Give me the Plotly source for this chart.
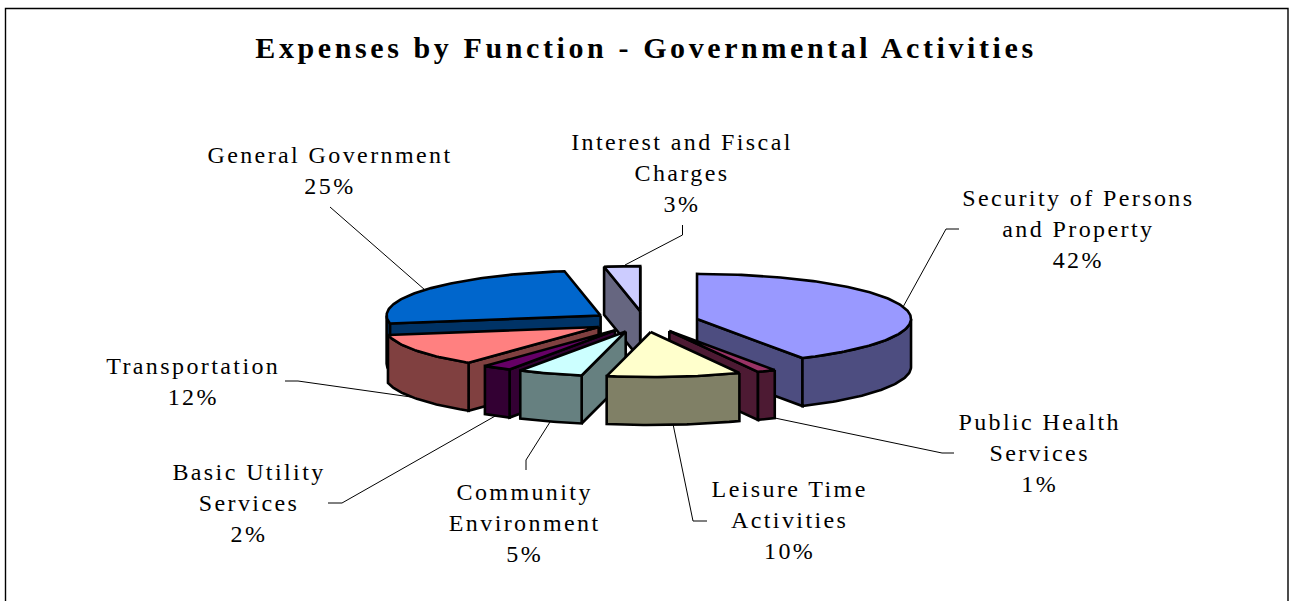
import numpy as np
import plotly.graph_objects as go

TITLE = "Expenses by Function - Governmental Activities"
categories = ["Security of Persons<br>and Property", "Public Health<br>Services",
              "Leisure Time<br>Activities", "Community<br>Environment",
              "Basic Utility<br>Services", "Transportation",
              "General Government", "Interest and Fiscal<br>Charges"]
values = [41.8, 1.4, 10.1, 4.9, 2.2, 11.8, 25.1, 2.7]
top_colors = ["#9999FF", "#993366", "#FFFFCC", "#CCFFFF", "#660066", "#FF8080", "#0066CC", "#CCCCFF"]
side_colors = ["#4D4D80", "#4D1A33", "#808066", "#668080", "#330033", "#804040", "#003366", "#666680"]

label_x = [1078, 1039, 789, 525, 249, 193, 330, 682]
label_y = [229, 453, 520, 523, 503, 381, 170, 173]
leader_x = [[959, 946, 903], [954, 942, 770], [707, 693, 673], [526, 526, 550],
            [328, 342, 497], [285, 298, 418], [330, 425], [682.5, 682.5, 625]]
leader_y = [[229, 229, 307], [453, 453, 417], [521, 521, 424], [470, 460, 422],
            [503, 503, 415], [381, 381, 398], [207, 290], [225, 235, 265]]

CX, CY = 644.8, 321.6    # pie centre on the page
RX, RY = 214, 45         # top ellipse radii
DEPTH = 48               # pie thickness
EX, EY = 54, 10.5        # slice explosion
W, H = 1289, 601

fig = go.Figure()

for lx, ly in zip(leader_x, leader_y):
    fig.add_trace(go.Scatter(x=lx, y=ly, mode="lines", line=dict(color="#000000", width=1),
                             hoverinfo="skip", showlegend=False))

total = sum(values)
edges = np.concatenate([[0], np.cumsum(values)]) / total * 360


def arc(a0, a1, ax, ay):
    t = np.radians(np.linspace(a0, a1, max(2, int(abs(a1 - a0)) + 2)))
    return ax + RX * np.sin(t), ay - RY * np.cos(t)


def poly(xs, ys, color, name):
    fig.add_trace(go.Scatter(x=np.append(xs, xs[0]), y=np.append(ys, ys[0]), mode="lines",
                             fill="toself", fillcolor=color,
                             line=dict(color="#000000", width=2.6), name=name,
                             hoverinfo="skip", showlegend=False))


mids = [(edges[i] + edges[i + 1]) / 2 for i in range(len(values))]
order = sorted(range(len(values)), key=lambda i: -np.cos(np.radians(mids[i])))

for i in order:
    a0, a1 = edges[i], edges[i + 1]
    m = np.radians(mids[i])
    ax, ay = CX + EX * np.sin(m), CY - EY * np.cos(m)
    side, top = side_colors[i], top_colors[i]
    # radial side faces that look towards the viewer
    for ang, visible in ((a0, np.sin(np.radians(a0)) < 0), (a1, np.sin(np.radians(a1)) > 0)):
        if visible:
            px, py = arc(ang, ang, ax, ay)
            px, py = px[0], py[0]
            poly(np.array([ax, px, px, ax]), np.array([ay, py, py + DEPTH, ay + DEPTH]), side, "side")
    # outer rim, front half only
    r0, r1 = max(a0, 90), min(a1, 270)
    if r1 > r0:
        rx_, ry_ = arc(r0, r1, ax, ay)
        poly(np.concatenate([rx_, rx_[::-1]]), np.concatenate([ry_, ry_[::-1] + DEPTH]), side, "rim")
    # top face
    tx, ty = arc(a0, a1, ax, ay)
    poly(np.concatenate([[ax], tx]), np.concatenate([[ay], ty]), top, "top")

FONT = "Liberation Serif"
for name, v, x, y in zip(categories, values, label_x, label_y):
    fig.add_annotation(x=x, y=y, text=f"{name}<br>{round(v)}%", showarrow=False, xanchor="center", yanchor="middle",
                       align="center", font=dict(family=FONT, size=24, color="#000000"))

fig.update_layout(
    width=W, height=H, autosize=False, margin=dict(l=0, r=0, t=0, b=0),
    paper_bgcolor="#FFFFFF", plot_bgcolor="#FFFFFF", showlegend=False,
    title=dict(text=f"<b>{TITLE}</b>", x=646 / W, xanchor="center", y=1 - 47 / H, yanchor="middle",
               font=dict(family=FONT, size=30, color="#000000")),
    xaxis=dict(range=[0, W], visible=False, fixedrange=True),
    yaxis=dict(range=[H, 0], visible=False, fixedrange=True),
    shapes=[dict(type="path", path=f"M5.5,{H} L5.5,8.5 L1288,8.5 L1288,{H}", xref="x", yref="y",
                 line=dict(color="#000000", width=1.4), layer="below")],
)

post = """
document.documentElement.style.margin='0';document.body.style.margin='0';document.body.style.overflow='hidden';
document.querySelectorAll('.annotation-text').forEach(function(t){t.style.letterSpacing='2.4px';});
document.querySelectorAll('.gtitle').forEach(function(t){t.style.letterSpacing='3.6px';});
"""
fig.write_html("out.html", post_script=post, config=dict(displayModeBar=False))
